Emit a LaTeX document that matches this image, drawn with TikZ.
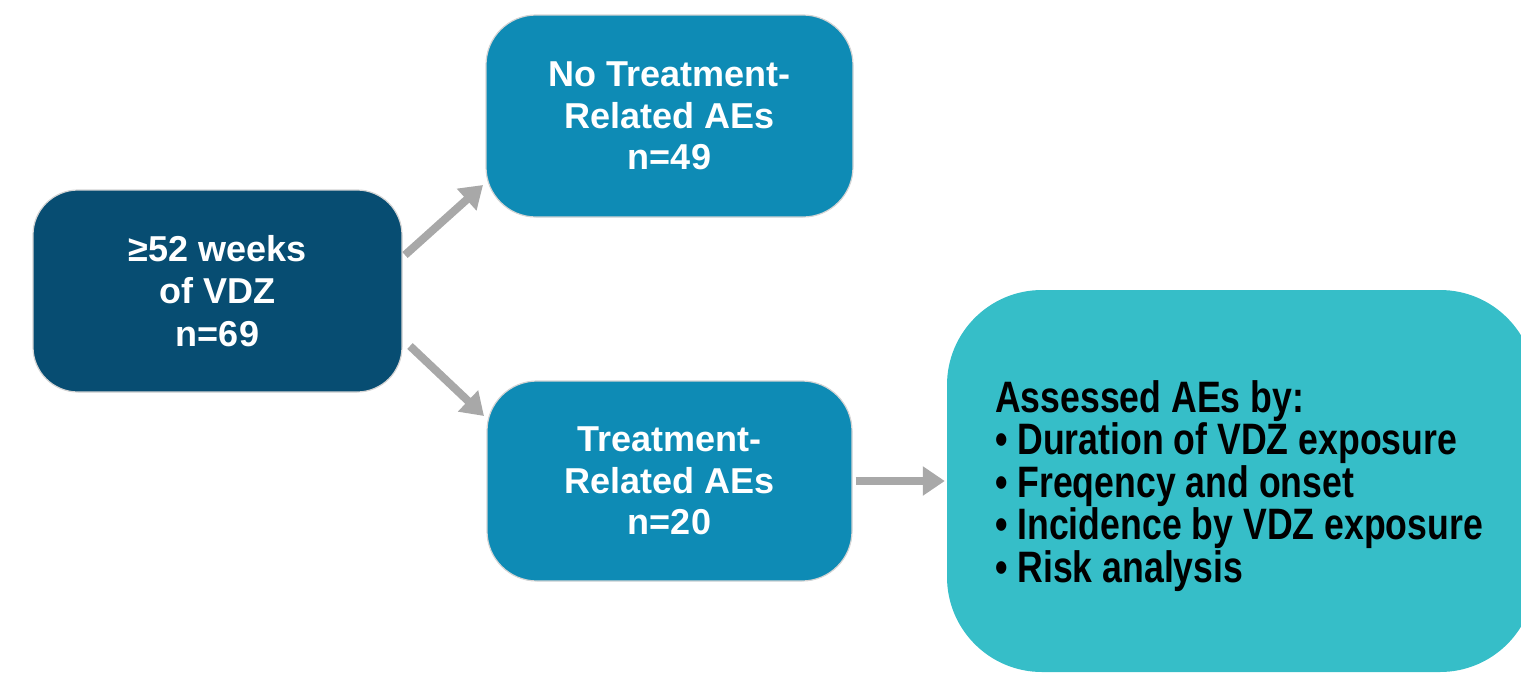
\documentclass[tikz,border=0pt]{standalone}
\usepackage{fontspec}
\setmainfont{Liberation Sans}
\newfontfamily\narrowfont[FakeStretch=0.81]{Liberation Sans}
\usetikzlibrary{arrows.meta}
\definecolor{navy}{HTML}{074D72}
\definecolor{midblue}{HTML}{0E8BB5}
\definecolor{teal}{HTML}{36BEC8}
\definecolor{edgegray}{HTML}{D4D4D4}
\definecolor{arrgray}{HTML}{A8A8A8}
\tikzset{
  box/.style={draw=edgegray, line width=1.2pt, text=white, align=center,
    font=\fontsize{36}{41.5}\selectfont\bfseries, inner sep=0pt},
  bigbox/.style={fill=teal, draw=none, inner sep=0pt},
  bigtext/.style={text=black, align=left,
    font=\narrowfont\fontsize{44}{42.5}\selectfont\bfseries, inner sep=0pt},
  arr/.style={draw=arrgray, line width=8pt, -{Triangle[length=22pt,width=28pt]}},
}
\begin{document}
\begin{tikzpicture}[x=1pt,y=-1pt]
\useasboundingbox (0,0) rectangle (1521,678);
\node[box, fill=navy, minimum width=369pt, minimum height=202pt, rounded corners=45pt,
  font=\fontsize{36}{42.5}\selectfont\bfseries] (left) at (217.5,291) {≥52 weeks\\of VDZ\\n=69};
\node[box, fill=midblue, minimum width=367pt, minimum height=202pt, rounded corners=50pt] (top) at (669.5,116) {No Treatment-\\Related AEs\\n=49};
\node[box, fill=midblue, minimum width=365pt, minimum height=200pt, rounded corners=50pt] (mid) at (669.5,481) {Treatment-\\Related AEs\\n=20};
\node[bigbox, minimum width=588pt, minimum height=382pt, rounded corners=95pt] (right) at (1241,481) {};
\node[bigtext] (rtext) at (1239,486) {Assessed AEs by:\\• Duration of VDZ exposure\\• Freqency and onset\\• Incidence by VDZ exposure\\• Risk analysis};
\coordinate (a1s) at (405,255);
\coordinate (a1e) at (483,185);
\coordinate (a2s) at (410,346);
\coordinate (a2e) at (484,416);
\draw[arr] (a1s) -- (a1e);
\draw[arr] (a2s) -- (a2e);
\draw[arr, shorten <=3pt, shorten >=2pt] (mid.east) -- (right.west);
\end{tikzpicture}
\end{document}
